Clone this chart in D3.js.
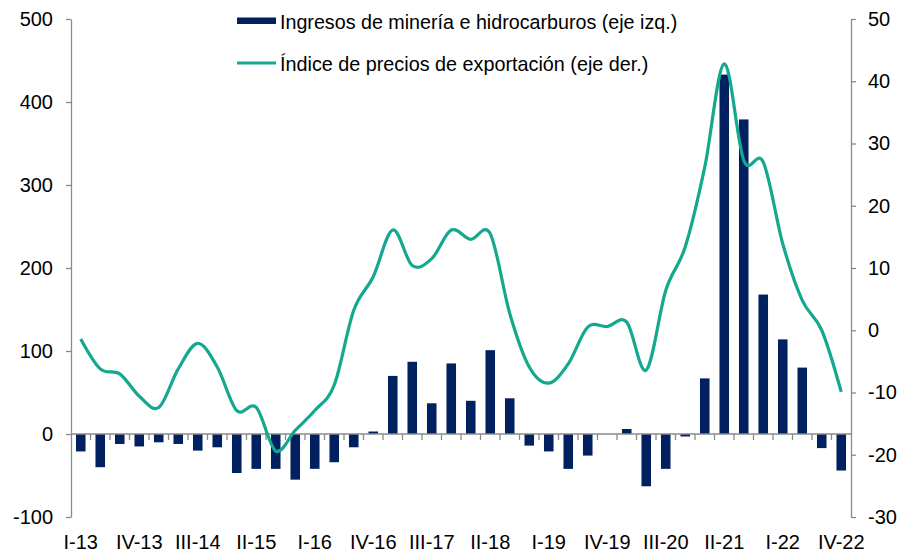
<!DOCTYPE html>
<html>
<head>
<meta charset="utf-8">
<script src="https://cdn.jsdelivr.net/npm/d3@7"></script>
<style>
  body { margin: 0; background: #fff; }
  text { font-family: "Liberation Sans", Arial, sans-serif; fill: #000; }
</style>
</head>
<body>
<div id="draw_zone"></div>
<script>
// quarters I-13 .. IV-22
var romans = ["I", "II", "III", "IV"];
var quarters = [];
for (var y = 13; y <= 22; y++) {
  for (var q = 0; q < 4; q++) quarters.push(romans[q] + "-" + y);
}

// ingresos de mineria e hidrocarburos (eje izq.)
var ingresos = [-21, -40, -12, -15, -10, -12, -20, -16, -47, -42,
                -42, -55, -42, -34, -16, 3, 70, 87, 37, 85,
                40, 101, 43, -14, -21, -42, -26, 0, 6, -63,
                -42, -3, 67, 433, 379, 168, 114, 80, -17, -44];

// indice de precios de exportacion (eje der.)
var indice = [-1.4, -6.2, -7.0, -10.6, -12.4, -6.2, -2.1, -5.9, -12.9, -12.4,
              -19.4, -16.1, -12.9, -8.8, 3.2, 8.6, 16.1, 10.4, 11.5, 16.1,
              14.6, 15.5, 2.7, -5.9, -8.5, -5.4, 0.5, 0.6, 1.3, -6.4,
              6.4, 13.4, 26.2, 42.8, 27.3, 27.0, 13.9, 4.8, 0, -9.9];

var leftTicks = [-100, 0, 100, 200, 300, 400, 500];
var rightTicks = [-30, -20, -10, 0, 10, 20, 30, 40, 50];
var labelEvery = 3;

var W = 899, H = 552;
var x0 = 71, x1 = 851, yTop = 19, yBot = 517;
var axisColor = "#8a8a8a";

var svg = d3.select("#draw_zone").append("svg").attr("width", W).attr("height", H);

var x = d3.scaleBand().domain(quarters).range([x0, x1]).paddingInner(0.51).paddingOuter(0.255);
var xc = d3.scaleBand().domain(quarters).range([x0, x1]);
var yL = d3.scaleLinear().domain([-100, 500]).range([yBot, yTop]);
var yR = d3.scaleLinear().domain([-30, 50]).range([yBot, yTop]);

// bars
svg.append("g").selectAll("rect").data(ingresos).enter().append("rect")
  .attr("x", function(d, i) { return x(quarters[i]); })
  .attr("width", x.bandwidth())
  .attr("y", function(d) { return yL(Math.max(0, d)); })
  .attr("height", function(d) { return Math.abs(yL(d) - yL(0)); })
  .style("fill", "#002060");

// axes (plain hyphen for negatives)
var fmt = function(d) { return String(d); };
var gl = svg.append("g").attr("transform", "translate(" + x0 + ",0)")
  .call(d3.axisLeft(yL).tickValues(leftTicks).tickFormat(fmt).tickSize(5).tickPadding(13).tickSizeOuter(0));
var gr = svg.append("g").attr("transform", "translate(" + x1 + ",0)")
  .call(d3.axisRight(yR).tickValues(rightTicks).tickFormat(fmt).tickSize(5).tickPadding(12).tickSizeOuter(0));
[gl, gr].forEach(function(g) {
  g.select(".domain").attr("stroke", axisColor).attr("stroke-width", 1.3);
  g.selectAll(".tick line").attr("stroke", axisColor).attr("stroke-width", 1.3);
  g.selectAll(".tick text").style("font-size", "20px").attr("fill", "#000");
});

// zero line with category ticks
var zeroY = yL(0);
svg.append("line").attr("x1", x0).attr("x2", x1).attr("y1", zeroY).attr("y2", zeroY)
  .attr("stroke", axisColor).attr("stroke-width", 1.3);
svg.append("g").selectAll("line").data(quarters.slice(1)).enter().append("line")
  .attr("x1", function(d) { return xc(d); }).attr("x2", function(d) { return xc(d); })
  .attr("y1", zeroY).attr("y2", zeroY + 6)
  .attr("stroke", axisColor).attr("stroke-width", 1.3);

// category labels at the bottom
var gx = svg.append("g").attr("transform", "translate(0," + (yBot + 14) + ")")
  .call(d3.axisBottom(xc).tickValues(quarters.filter(function(d, i) { return i % labelEvery === 0; }))
    .tickSize(0).tickPadding(4));
gx.select(".domain").remove();
gx.selectAll(".tick text").style("font-size", "20px").attr("fill", "#000");

// line
var line = d3.line()
  .x(function(d, i) { return xc(quarters[i]) + xc.bandwidth() / 2; })
  .y(function(d) { return yR(d); })
  .curve(d3.curveCatmullRom.alpha(0));
svg.append("path").datum(indice).attr("d", line)
  .style("fill", "none").style("stroke", "#14a88e").style("stroke-width", 3.2);

// legend
var lg = svg.append("g");
lg.append("rect").attr("x", 237).attr("y", 17.5).attr("width", 39).attr("height", 6.5).style("fill", "#002060");
lg.append("text").attr("x", 280).attr("y", 28.5).style("font-size", "19.7px")
  .text("Ingresos de minería e hidrocarburos (eje izq.)");
lg.append("line").attr("x1", 237).attr("x2", 276).attr("y1", 63).attr("y2", 63)
  .style("stroke", "#14a88e").style("stroke-width", 3.2);
lg.append("text").attr("x", 280).attr("y", 71).style("font-size", "19.8px")
  .text("Índice de precios de exportación (eje der.)");
</script>
</body>
</html>
